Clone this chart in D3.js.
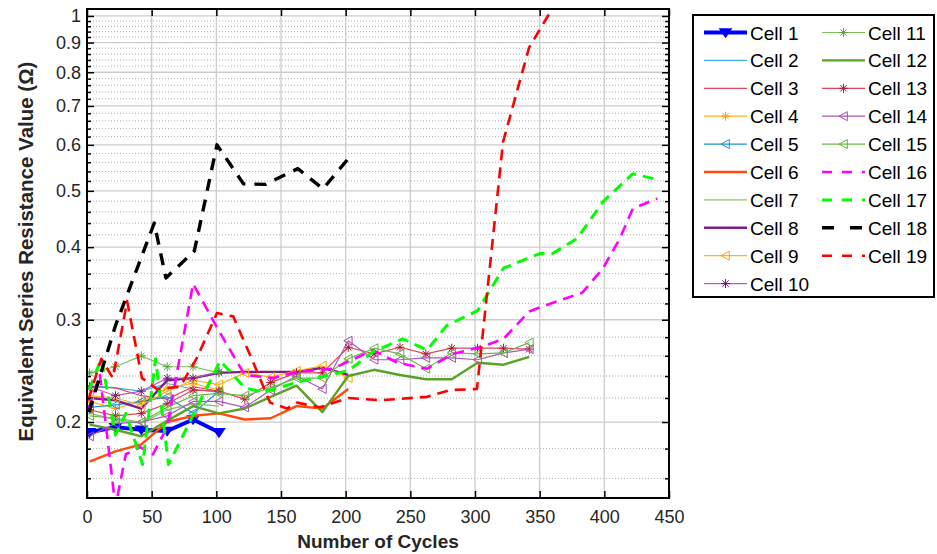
<!DOCTYPE html>
<html>
<head>
<meta charset="utf-8">
<script src="https://d3js.org/d3.v7.min.js"></script>
<style>
  body { margin: 0; background: #fff; }
  svg { display: block; font-family: Arial, "Liberation Sans", Helvetica, sans-serif; }
</style>
</head>
<body>
<svg id="chart" width="937" height="554"></svg>
<script>
"use strict";

// Cycle positions
const cyclesShort = [2, 22, 42, 62, 82, 102];
const cyclesMid = [2, 22, 42, 62, 82, 102, 122, 142, 162, 182, 202];
const cyclesLong = [2, 22, 42, 62, 82, 102, 122, 142, 162, 182, 202, 222, 242, 262, 282, 302, 322, 342];

// ESR values (ohm)
const cell1 = [0.192, 0.196, 0.194, 0.193, 0.202, 0.192];
const cell2 = [0.231, 0.229, 0.226, 0.233, 0.228, 0.225];
const cell3 = [0.230, 0.229, 0.222, 0.219, 0.230, 0.226];
const cell4 = [0.217, 0.211, 0.217, 0.229, 0.233, 0.227];
const cell5 = [0.212, 0.214, 0.217, 0.221, 0.207, 0.226];
const cell6 = [0.171, 0.178, 0.183, 0.200, 0.205, 0.207, 0.202, 0.203, 0.213, 0.211, 0.228];
const cell7 = [0.207, 0.202, 0.199, 0.210, 0.215, 0.213];
const cell8 = [0.220, 0.218, 0.211, 0.236, 0.238, 0.243, 0.244, 0.244, 0.244, 0.248, 0.241];
const cell9 = [0.222, 0.220, 0.214, 0.226, 0.236, 0.232, 0.243, 0.239, 0.245, 0.250, 0.238];
const cell10 = [0.230, 0.222, 0.226, 0.238, 0.238, 0.244];
const cell11 = [0.243, 0.249, 0.260, 0.249, 0.249, 0.243];
const cell12 = [0.198, 0.194, 0.189, 0.201, 0.213, 0.207, 0.211, 0.221, 0.231, 0.208,
                0.240, 0.246, 0.241, 0.237, 0.237, 0.253, 0.251, 0.259];
const cell13 = [0.210, 0.205, 0.207, 0.215, 0.227, 0.226, 0.219, 0.234, 0.243, 0.243,
                0.269, 0.262, 0.269, 0.262, 0.268, 0.268, 0.268, 0.267];
const cell14 = [0.189, 0.199, 0.200, 0.205, 0.217, 0.217, 0.212, 0.227, 0.240, 0.228,
                0.276, 0.256, 0.256, 0.258, 0.258, 0.256, 0.263, 0.267];
const cell15 = [0.205, 0.203, 0.200, 0.212, 0.222, 0.224, 0.222, 0.229, 0.238, 0.238,
                0.257, 0.268, 0.262, 0.247, 0.263, 0.262, 0.263, 0.274];

const cell16X = [1, 10, 22, 30, 41, 51, 62, 82, 102, 122, 144, 162, 190, 221, 240, 263,
                 283, 304, 322, 342, 350, 383, 399, 412, 422, 441];
const cell16 = [0.210, 0.241, 0.143, 0.176, 0.181, 0.176, 0.196, 0.346, 0.287, 0.241, 0.238,
                0.244, 0.247, 0.266, 0.253, 0.247, 0.262, 0.269, 0.278, 0.310, 0.315,
                0.334, 0.368, 0.414, 0.466, 0.485];

const cell17X = [1.5, 11, 22, 30, 43, 53, 63, 103, 122, 136, 162, 180, 202, 221, 244, 263,
                 278, 302, 322, 350, 360, 379, 399, 422, 441];
const cell17 = [0.227, 0.257, 0.190, 0.207, 0.169, 0.257, 0.169, 0.255, 0.229, 0.225, 0.234,
                0.239, 0.245, 0.264, 0.278, 0.266, 0.293, 0.311, 0.368, 0.390, 0.390,
                0.414, 0.479, 0.535, 0.523];

const cell18X = [1.5, 22, 52, 61, 83, 100.5, 121, 138, 163, 182.5, 202];
const cell18 = [0.208, 0.293, 0.440, 0.354, 0.394, 0.600, 0.514, 0.513, 0.546, 0.504, 0.568];

const cell19X = [1, 11, 20, 31, 42.5, 54, 72, 85, 100.5, 113, 128, 141.5, 154.6, 162.4,
                 180, 202, 226.5, 263, 280.7, 301.5, 321.7, 341.8, 362];
const cell19 = [0.218, 0.257, 0.238, 0.323, 0.238, 0.228, 0.230, 0.258, 0.308, 0.304, 0.255,
                0.216, 0.211, 0.216, 0.212, 0.220, 0.218, 0.221, 0.227, 0.228, 0.607,
                0.882, 1.05];

const xTicks = [0, 50, 100, 150, 200, 250, 300, 350, 400, 450];
const yTicks = [0.2, 0.3, 0.4, 0.5, 0.6, 0.7, 0.8, 0.9, 1];
const yMinorTicks = [0.16, 0.18, 0.22, 0.24, 0.26, 0.28, 0.32, 0.34, 0.36, 0.38,
                     0.42, 0.44, 0.46, 0.48, 0.52, 0.54, 0.56, 0.58, 0.62, 0.64, 0.66, 0.68,
                     0.72, 0.74, 0.76, 0.78, 0.82, 0.84, 0.86, 0.88, 0.92, 0.94, 0.96, 0.98];

const seriesList = [
  {name: "Cell 1", xs: cyclesShort, ys: cell1, color: "#0000ff", width: 4, marker: "down", markerColor: "#0000ff"},
  {name: "Cell 2", xs: cyclesShort, ys: cell2, color: "#3fb4e8", width: 1.2},
  {name: "Cell 3", xs: cyclesShort, ys: cell3, color: "#e8455c", width: 1.2},
  {name: "Cell 4", xs: cyclesShort, ys: cell4, color: "#ffb21f", width: 1.2, marker: "star", markerColor: "#ff9f00"},
  {name: "Cell 5", xs: cyclesShort, ys: cell5, color: "#1c93d6", width: 1.2, marker: "left", markerColor: "#1c93d6"},
  {name: "Cell 6", xs: cyclesMid, ys: cell6, color: "#ff4a0a", width: 2.4},
  {name: "Cell 7", xs: cyclesShort, ys: cell7, color: "#86c863", width: 1.4},
  {name: "Cell 8", xs: cyclesMid, ys: cell8, color: "#7d1d8a", width: 2.4},
  {name: "Cell 9", xs: cyclesMid, ys: cell9, color: "#ffb21f", width: 1.2, marker: "left", markerColor: "#ffa600"},
  {name: "Cell 10", xs: cyclesShort, ys: cell10, color: "#b35fb8", width: 1.2, marker: "star", markerColor: "#6f1a7d"},
  {name: "Cell 11", xs: cyclesShort, ys: cell11, color: "#7fc25e", width: 1.2, marker: "star", markerColor: "#5aa63a"},
  {name: "Cell 12", xs: cyclesLong, ys: cell12, color: "#5aa127", width: 2.4},
  {name: "Cell 13", xs: cyclesLong, ys: cell13, color: "#e0455a", width: 1.2, marker: "star", markerColor: "#b0182f"},
  {name: "Cell 14", xs: cyclesLong, ys: cell14, color: "#a858b8", width: 1.2, marker: "left", markerColor: "#a050b0"},
  {name: "Cell 15", xs: cyclesLong, ys: cell15, color: "#6bb84a", width: 1.2, marker: "left", markerColor: "#60b040"},
  {name: "Cell 16", xs: cell16X, ys: cell16, color: "#ff00ff", width: 2.6, dash: "11,7"},
  {name: "Cell 17", xs: cell17X, ys: cell17, color: "#00ff00", width: 3, dash: "11,7"},
  {name: "Cell 18", xs: cell18X, ys: cell18, color: "#000000", width: 3.4, dash: "12,9"},
  {name: "Cell 19", xs: cell19X, ys: cell19, color: "#ff0000", width: 2.6, dash: "11,7"},
];

// Layout
const plotLeft = 87, plotRight = 669, plotTop = 9, plotBottom = 498;
const textColor = "#262626";

const svg = d3.select("#chart");

const x = d3.scaleLinear().domain([0, 450]).range([plotLeft, plotRight]);
const y = d3.scaleLog().domain([0.148, 1.028]).range([plotBottom, plotTop]);

// Grid
const grid = svg.append("g");
grid.selectAll("line.minor")
  .data(yMinorTicks)
  .enter()
  .append("line")
  .attr("x1", plotLeft).attr("x2", plotRight)
  .attr("y1", d => y(d)).attr("y2", d => y(d))
  .attr("stroke", "#ababab")
  .attr("stroke-width", 1)
  .attr("stroke-dasharray", "1,2");

grid.selectAll("line.ymajor")
  .data(yTicks)
  .enter()
  .append("line")
  .attr("x1", plotLeft).attr("x2", plotRight)
  .attr("y1", d => y(d)).attr("y2", d => y(d))
  .attr("stroke", "#cccccc")
  .attr("stroke-width", 1.3);

grid.selectAll("line.xmajor")
  .data(xTicks)
  .enter()
  .append("line")
  .attr("x1", d => x(d)).attr("x2", d => x(d))
  .attr("y1", plotTop).attr("y2", plotBottom)
  .attr("stroke", "#cccccc")
  .attr("stroke-width", 1.3);

// Markers
function markerPath(type, r) {
  if (type == "star") {
    const d = r * 0.72;
    return `M${-r},0L${r},0M0,${-r}L0,${r}M${-d},${-d}L${d},${d}M${-d},${d}L${d},${-d}`;
  }
  if (type == "left") {
    return `M${-r},0L${r * 0.85},${-r}L${r * 0.85},${r}Z`;
  }
  if (type == "down") {
    return `M${-r * 1.1},${-r * 0.7}L${r * 1.1},${-r * 0.7}L0,${r * 0.9}Z`;
  }
  return "";
}

function drawMarker(g, s, px, py) {
  const filled = s.marker == "down";
  g.append("path")
    .attr("transform", `translate(${px},${py})`)
    .attr("d", markerPath(s.marker, filled ? 5 : 4.5))
    .attr("fill", filled ? s.markerColor : "none")
    .attr("stroke", s.markerColor)
    .attr("stroke-width", filled ? 1.5 : 1);
}

// Data
svg.append("clipPath")
  .attr("id", "plot-clip")
  .append("rect")
  .attr("x", plotLeft).attr("y", plotTop)
  .attr("width", plotRight - plotLeft).attr("height", plotBottom - plotTop);

const dataLayer = svg.append("g").attr("clip-path", "url(#plot-clip)");

const line = d3.line()
  .x(p => x(p[0]))
  .y(p => y(p[1]));

seriesList.forEach(s => {
  const points = s.xs.map((c, i) => [c, s.ys[i]]);

  dataLayer.append("path")
    .datum(points)
    .attr("fill", "none")
    .attr("stroke", s.color)
    .attr("stroke-width", s.width)
    .attr("stroke-dasharray", s.dash || null)
    .attr("stroke-linejoin", "round")
    .attr("d", line);

  if (s.marker) {
    points.forEach(p => drawMarker(dataLayer, s, x(p[0]), y(p[1])));
  }
});

// Axes
const axes = svg.append("g");

const xAxis = d3.axisBottom(x)
  .tickValues(xTicks)
  .tickSizeInner(-7)
  .tickSizeOuter(0)
  .tickPadding(12);
const xAxisG = axes.append("g")
  .attr("transform", `translate(0,${plotBottom})`)
  .call(xAxis);

const xAxisTop = d3.axisTop(x)
  .tickValues(xTicks)
  .tickSizeInner(-7)
  .tickSizeOuter(0)
  .tickFormat("");
const xAxisTopG = axes.append("g")
  .attr("transform", `translate(0,${plotTop})`)
  .call(xAxisTop);

const yAxis = d3.axisLeft(y)
  .tickValues(yTicks)
  .tickFormat(d => d == 1 ? "1" : d3.format(".1f")(d))
  .tickSizeInner(-7)
  .tickSizeOuter(0)
  .tickPadding(6);
const yAxisG = axes.append("g")
  .attr("transform", `translate(${plotLeft},0)`)
  .call(yAxis);

const yAxisRight = d3.axisRight(y)
  .tickValues(yTicks)
  .tickSizeInner(-7)
  .tickSizeOuter(0)
  .tickFormat("");
const yAxisRightG = axes.append("g")
  .attr("transform", `translate(${plotRight},0)`)
  .call(yAxisRight);

const yMinorLeft = d3.axisLeft(y).tickValues(yMinorTicks).tickSizeInner(-4).tickSizeOuter(0).tickFormat("");
const yMinorRight = d3.axisRight(y).tickValues(yMinorTicks).tickSizeInner(-4).tickSizeOuter(0).tickFormat("");
const yMinorLeftG = axes.append("g").attr("transform", `translate(${plotLeft},0)`).call(yMinorLeft);
const yMinorRightG = axes.append("g").attr("transform", `translate(${plotRight},0)`).call(yMinorRight);

[xAxisG, xAxisTopG, yAxisG, yAxisRightG, yMinorLeftG, yMinorRightG].forEach(g => {
  g.select(".domain").remove();
  g.selectAll(".tick line").attr("stroke", "#000").attr("stroke-width", 1.5);
  g.selectAll(".tick text")
    .attr("fill", textColor)
    .attr("font-size", 18)
    .attr("font-family", "Arial, 'Liberation Sans', Helvetica, sans-serif");
});

axes.append("rect")
  .attr("x", plotLeft).attr("y", plotTop)
  .attr("width", plotRight - plotLeft).attr("height", plotBottom - plotTop)
  .attr("fill", "none")
  .attr("stroke", "#000")
  .attr("stroke-width", 2);

// Axis titles
svg.append("text")
  .attr("x", (plotLeft + plotRight) / 2)
  .attr("y", 548)
  .attr("text-anchor", "middle")
  .attr("font-size", 19)
  .attr("font-weight", "bold")
  .attr("fill", textColor)
  .text("Number of Cycles");

svg.append("text")
  .attr("transform", `translate(33,${(plotTop + plotBottom) / 2 - 2}) rotate(-90)`)
  .attr("text-anchor", "middle")
  .attr("font-size", 20.5)
  .attr("font-weight", "bold")
  .attr("fill", textColor)
  .text("Equivalent Series Resistance Value (\u03A9)");

// Legend
const legend = svg.append("g");
legend.append("rect")
  .attr("x", 693).attr("y", 15)
  .attr("width", 241).attr("height", 282)
  .attr("fill", "#fff")
  .attr("stroke", "#000")
  .attr("stroke-width", 2);

const rowStep = 27.9;
seriesList.forEach((s, i) => {
  const col = i < 10 ? 0 : 1;
  const row = i < 10 ? i : i - 10;
  const cy = 32.5 + row * rowStep;
  const x0 = col == 0 ? 704 : 822;
  const x1 = x0 + 43;

  const item = legend.append("g");
  item.append("line")
    .attr("x1", x0).attr("x2", x1)
    .attr("y1", cy).attr("y2", cy)
    .attr("stroke", s.color)
    .attr("stroke-width", s.width)
    .attr("stroke-dasharray", s.dash ? (s.name == "Cell 18" ? "12,16" : "10,10") : null);

  if (s.marker) {
    drawMarker(item, s, (x0 + x1) / 2, cy);
  }

  item.append("text")
    .attr("x", x1 + 3)
    .attr("y", cy + 7)
    .attr("font-size", 19)
    .attr("fill", "#000")
    .text(s.name);
});
</script>
</body>
</html>
